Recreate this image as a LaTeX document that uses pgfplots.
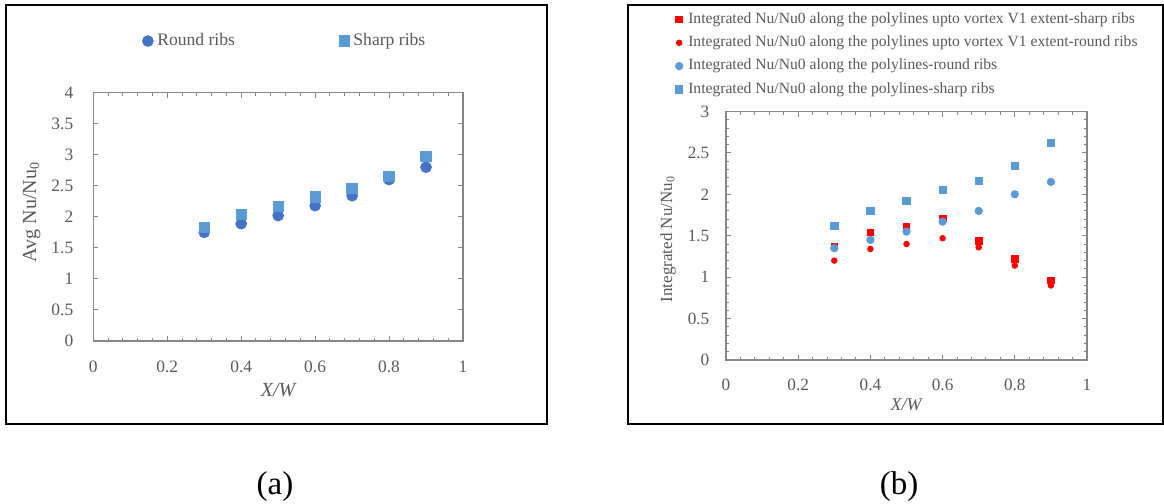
\documentclass[border=0pt]{standalone}
\usepackage{fontspec}
\setmainfont{Liberation Serif}
\usepackage{pgfplots}
\pgfplotsset{compat=1.18}
\definecolor{rnd}{HTML}{4472C4}
\definecolor{shp}{HTML}{5B9BD5}
\definecolor{txt}{HTML}{595959}
\definecolor{axl}{HTML}{868686}
\definecolor{myred}{HTML}{FF0000}
\pgfplotsset{
  base/.style={
    scale only axis,
    anchor=south west,
    axis line style={axl, line width=0.6pt},
    every tick/.style={axl, line width=0.5pt},
    major tick length=2.5pt, minor tick length=1.5pt,
    tick label style={text=txt},
    /pgf/number format/assume math mode=true,
    xmin=0, xmax=1,
    xtick={0,0.2,0.4,0.6,0.8,1}, minor x tick num=4,
    legend cell align=left,
    legend image code/.code={\draw[##1] plot coordinates {(0pt,0pt)};},
    label style={text=txt},
  }
}
\begin{document}
\begin{tikzpicture}
\useasboundingbox (0,0) rectangle (582pt,252pt);
\draw[line width=1pt] (3pt,40pt) rectangle (273.5pt,249.5pt);
\draw[line width=1pt] (314pt,40pt) rectangle (581.5pt,249.5pt);
\node at (137.5pt,8.5pt) {\fontsize{16.5}{20}\selectfont (a)};
\node at (449.5pt,8.5pt) {\fontsize{16.5}{20}\selectfont (b)};

\begin{axis}[base,
  at={(46.65pt,81.5pt)}, width=184.85pt, height=124.15pt,
  ymin=0, ymax=4, ytick={0,0.5,1,1.5,2,2.5,3,3.5,4},
  tick label style={font=\fontsize{8.7}{10}\selectfont},
  xticklabel style={yshift=-6.6pt}, yticklabel style={xshift=-6.5pt},
  xlabel={\textit{X/W}}, ylabel={Avg Nu/Nu\textsubscript{0}},
  label style={font=\fontsize{10}{12}\selectfont},
  xlabel style={at={(axis description cs:0.502,-0.197)}, anchor=center},
  ylabel style={at={(axis description cs:-0.1666,0.52)}, anchor=center},
  legend columns=2,
  legend style={at={(axis description cs:0.132,1.208)}, anchor=west,
    draw=none, fill=none, inner sep=0pt, text=txt,
    font=\fontsize{8.8}{10}\selectfont,
    nodes={inner sep=0pt},
    /tikz/every odd column/.append style={column sep=2pt},
    /tikz/every even column/.append style={column sep=52pt}},
]
\addplot[only marks, mark=*, color=rnd, mark size=2.7pt] coordinates {
 (0.3,1.75) (0.4,1.89) (0.5,2.02) (0.6,2.18) (0.7,2.34) (0.8,2.60) (0.9,2.80)};
\addlegendentry{Round ribs}
\addplot[only marks, mark=square*, color=shp, mark size=2.6pt] coordinates {
 (0.3,1.83) (0.4,2.04) (0.5,2.17) (0.6,2.32) (0.7,2.46) (0.8,2.65) (0.9,2.97)};
\addlegendentry{Sharp ribs}
\end{axis}

\begin{axis}[base,
  at={(363pt,72pt)}, width=180.5pt, height=124.25pt,
  ymin=0, ymax=3, ytick={0,0.5,1,1.5,2,2.5,3}, minor y tick num=4,
  tick label style={font=\fontsize{8.6}{10}\selectfont},
  xticklabel style={yshift=-5.8pt}, yticklabel style={xshift=-4.8pt},
  xlabel={\textit{X/W}}, ylabel={Integrated Nu/Nu\textsubscript{0}},
  xlabel style={font=\fontsize{9}{11}\selectfont, at={(axis description cs:0.501,-0.181)}, anchor=center},
  ylabel style={font=\fontsize{8.5}{10}\selectfont, at={(axis description cs:-0.1607,0.487)}, anchor=center},
  legend style={at={(axis description cs:-0.141,1.401)}, anchor=north west,
    draw=none, fill=none, inner sep=0pt, text=txt,
    font=\fontsize{7.8}{9}\selectfont,
    nodes={inner sep=0pt, text height=5.5pt, text depth=1.7pt},
    row sep=4.47pt,
    /tikz/every odd column/.append style={column sep=2.7pt}},
]
\addplot[only marks, mark=square*, color=myred, mark size=1.65pt] coordinates {
 (0.3,1.37) (0.4,1.54) (0.5,1.61) (0.6,1.71) (0.7,1.44) (0.8,1.22) (0.9,0.96)};
\addlegendentry{Integrated Nu/Nu0 along the polylines upto vortex V1 extent-sharp ribs}
\addplot[only marks, mark=*, color=myred, mark size=1.4pt] coordinates {
 (0.3,1.20) (0.4,1.34) (0.5,1.40) (0.6,1.47) (0.7,1.36) (0.8,1.14) (0.9,0.90)};
\addlegendentry{Integrated Nu/Nu0 along the polylines upto vortex V1 extent-round ribs}
\addplot[only marks, mark=*, color=shp, mark size=1.85pt] coordinates {
 (0.3,1.35) (0.4,1.45) (0.5,1.55) (0.6,1.67) (0.7,1.80) (0.8,2.00) (0.9,2.15)};
\addlegendentry{Integrated Nu/Nu0 along the polylines-round ribs}
\addplot[only marks, mark=square*, color=shp, mark size=1.85pt] coordinates {
 (0.3,1.62) (0.4,1.80) (0.5,1.92) (0.6,2.05) (0.7,2.16) (0.8,2.34) (0.9,2.62)};
\addlegendentry{Integrated Nu/Nu0 along the polylines-sharp ribs}
\end{axis}
\end{tikzpicture}
\end{document}
